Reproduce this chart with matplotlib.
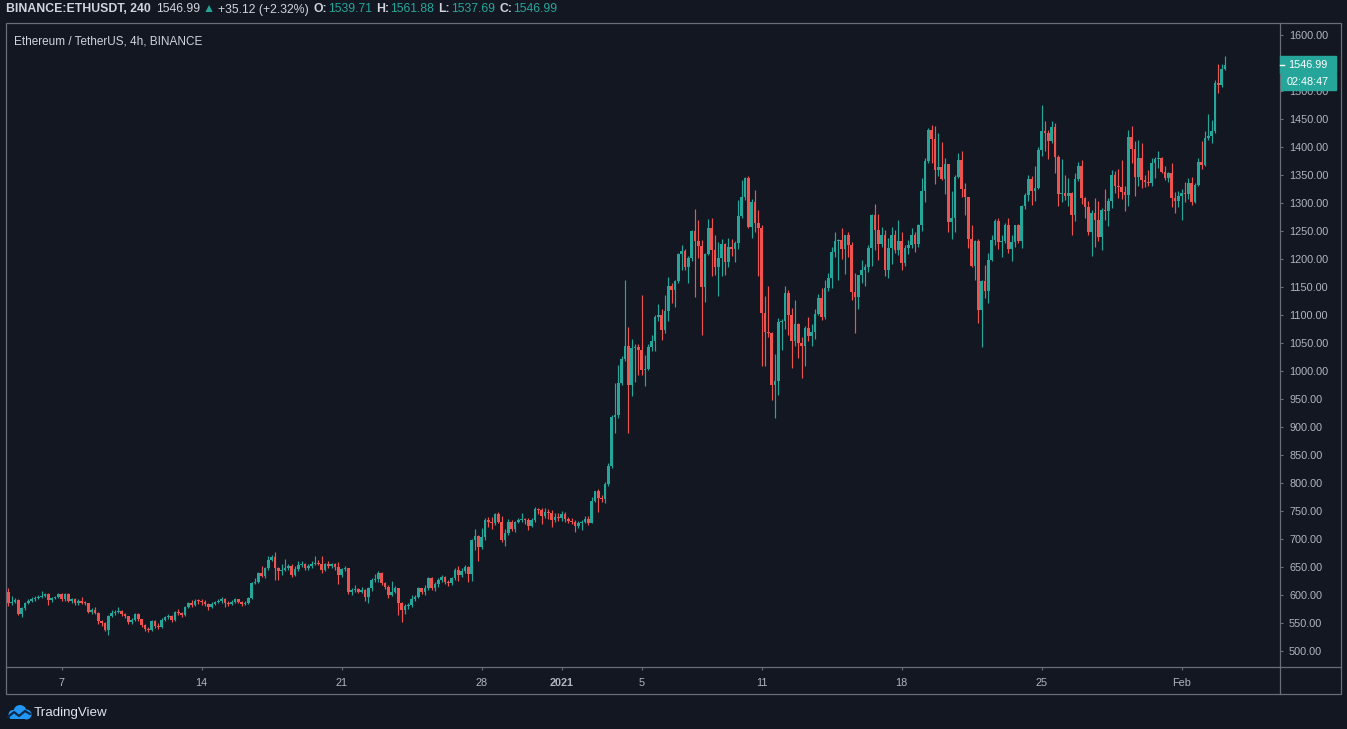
import numpy as np
import matplotlib
matplotlib.use("Agg")
import matplotlib.pyplot as plt
from matplotlib.patches import Rectangle, Circle
from matplotlib.lines import Line2D
from matplotlib.ticker import FormatStrFormatter

# ETH/USDT 4h candles (open of each candle = previous close)
first_open = 606
closes = [
    585, 588, 591, 566, 576, 586, 589, 592, 595, 597,
    599, 601, 591, 594, 596, 601, 592, 601, 590, 593,
    585, 590, 586, 585, 570, 574, 568, 554, 550, 537,
    562, 567, 570, 572, 566, 562, 552, 556, 566, 557,
    546, 540, 538, 554, 545, 543, 556, 560, 563, 556,
    570, 567, 564, 579, 586, 582, 590, 589, 587, 584,
    579, 584, 587, 589, 592, 585, 584, 588, 592, 588,
    584, 586, 594, 621, 624, 639, 634, 648, 662, 667,
    648, 642, 645, 648, 651, 636, 646, 654, 655, 648,
    652, 656, 658, 656, 645, 656, 652, 655, 650, 636,
    646, 648, 606, 609, 610, 606, 609, 596, 612, 627,
    628, 639, 622, 615, 600, 606, 612, 585, 573, 580,
    582, 592, 596, 612, 605, 612, 630, 612, 619, 627,
    633, 624, 621, 630, 645, 636, 642, 650, 638, 698,
    705, 685, 704, 734, 731, 729, 745, 731, 698, 710,
    731, 717, 731, 734, 736, 734, 723, 734, 753, 751,
    741, 749, 746, 734, 740, 737, 745, 735, 733, 731,
    723, 729, 731, 736, 729, 768, 786, 773, 771, 799,
    830, 918, 921, 978, 1021, 1045, 975, 1041, 1043, 1038,
    1001, 1003, 1042, 1053, 1097, 1100, 1073, 1108, 1152, 1144,
    1160, 1209, 1214, 1185, 1201, 1250, 1233, 1223, 1150, 1209,
    1255, 1216, 1185, 1201, 1227, 1195, 1221, 1217, 1229, 1277,
    1310, 1344, 1258, 1302, 1264, 1255, 1103, 1070, 1067, 975,
    983, 1088, 1089, 1139, 1100, 1053, 1084, 1050, 1045, 1076,
    1062, 1070, 1102, 1130, 1096, 1149, 1166, 1213, 1232, 1234,
    1218, 1242, 1225, 1141, 1133, 1171, 1181, 1185, 1219, 1278,
    1252, 1226, 1242, 1181, 1220, 1242, 1216, 1232, 1193, 1219,
    1225, 1242, 1226, 1260, 1322, 1375, 1431, 1414, 1359, 1365,
    1343, 1369, 1266, 1273, 1347, 1377, 1325, 1310, 1236, 1188,
    1232, 1109, 1161, 1143, 1198, 1234, 1268, 1231, 1233, 1261,
    1218, 1231, 1260, 1232, 1294, 1314, 1343, 1321, 1327, 1394,
    1428, 1425, 1410, 1435, 1383, 1316, 1318, 1312, 1318, 1279,
    1343, 1366, 1309, 1293, 1249, 1282, 1269, 1239, 1288, 1285,
    1303, 1350, 1331, 1328, 1320, 1314, 1417, 1396, 1347, 1380,
    1341, 1338, 1335, 1371, 1378, 1380, 1356, 1344, 1354, 1309,
    1304, 1312, 1318, 1316, 1336, 1301, 1333, 1374, 1368, 1416,
    1420, 1428, 1515, 1511, 1539.71, 1546.99,
]
highs = [
    612, 598, 595, 592, 578, 588, 593, 596, 598, 600,
    607, 604, 603, 597, 599, 604, 603, 604, 603, 595,
    594, 592, 596, 589, 586, 577, 578, 570, 556, 552,
    564, 574, 573, 578, 574, 568, 563, 559, 568, 567,
    558, 548, 542, 556, 556, 550, 559, 562, 566, 564,
    572, 575, 569, 581, 588, 591, 592, 592, 592, 591,
    586, 587, 590, 592, 596, 594, 589, 591, 594, 593,
    590, 589, 596, 624, 630, 641, 652, 650, 670, 672,
    676, 650, 655, 664, 655, 655, 652, 660, 660, 658,
    655, 660, 670, 662, 670, 658, 660, 658, 658, 659,
    648, 652, 649, 612, 618, 613, 614, 611, 615, 630,
    638, 642, 641, 624, 617, 625, 616, 613, 588, 584,
    586, 600, 600, 615, 613, 617, 633, 632, 623, 630,
    636, 634, 627, 632, 648, 652, 648, 653, 652, 700,
    717, 708, 719, 738, 740, 740, 747, 748, 741, 718,
    735, 734, 733, 738, 747, 738, 738, 738, 758, 756,
    756, 755, 753, 751, 747, 746, 750, 748, 739, 737,
    734, 733, 734, 741, 741, 775, 786, 790, 778, 802,
    836, 921, 978, 1011, 1026, 1163, 1079, 1058, 1049, 1049,
    1136, 1029, 1049, 1065, 1100, 1120, 1110, 1136, 1167, 1158,
    1163, 1210, 1225, 1217, 1205, 1252, 1289, 1269, 1234, 1210,
    1271, 1273, 1243, 1231, 1235, 1228, 1237, 1235, 1232, 1305,
    1341, 1347, 1348, 1308, 1324, 1288, 1261, 1134, 1151, 1069,
    1030, 1094, 1093, 1151, 1145, 1112, 1127, 1086, 1061, 1080,
    1097, 1084, 1110, 1138, 1149, 1163, 1175, 1222, 1249, 1236,
    1256, 1243, 1249, 1231, 1175, 1172, 1198, 1191, 1225, 1280,
    1298, 1280, 1258, 1252, 1237, 1258, 1252, 1270, 1249, 1225,
    1234, 1256, 1249, 1262, 1345, 1381, 1434, 1440, 1437, 1425,
    1409, 1381, 1370, 1322, 1350, 1389, 1392, 1335, 1311, 1261,
    1234, 1236, 1163, 1190, 1210, 1243, 1272, 1273, 1242, 1264,
    1274, 1242, 1261, 1262, 1297, 1318, 1350, 1349, 1366, 1400,
    1475, 1446, 1430, 1446, 1443, 1385, 1378, 1350, 1344, 1319,
    1353, 1374, 1376, 1310, 1303, 1287, 1309, 1303, 1291, 1325,
    1309, 1359, 1358, 1360, 1376, 1331, 1431, 1438, 1410, 1412,
    1407, 1350, 1359, 1380, 1382, 1392, 1382, 1366, 1356, 1371,
    1319, 1322, 1325, 1338, 1344, 1346, 1335, 1380, 1410, 1428,
    1459, 1448, 1519, 1548, 1548, 1561.88,
]
lows = [
    580, 582, 586, 564, 560, 574, 584, 588, 590, 593,
    595, 597, 582, 588, 592, 594, 590, 590, 588, 586,
    582, 583, 584, 582, 568, 566, 566, 548, 545, 535,
    528, 560, 565, 568, 563, 559, 549, 548, 553, 554,
    542, 536, 534, 535, 541, 540, 541, 553, 558, 552,
    553, 564, 561, 562, 576, 578, 580, 584, 582, 581,
    574, 576, 582, 585, 586, 579, 581, 582, 585, 586,
    581, 583, 584, 592, 619, 622, 632, 630, 645, 660,
    626, 626, 636, 642, 645, 632, 634, 643, 650, 645,
    645, 648, 653, 653, 640, 642, 648, 649, 645, 620,
    632, 643, 602, 600, 605, 603, 604, 590, 586, 608,
    623, 624, 618, 610, 595, 598, 603, 564, 551, 566,
    575, 578, 589, 594, 601, 600, 609, 609, 608, 615,
    624, 620, 616, 618, 627, 625, 633, 640, 623, 625,
    680, 660, 682, 699, 722, 718, 725, 728, 695, 688,
    707, 714, 713, 728, 730, 727, 716, 721, 731, 745,
    726, 737, 736, 721, 730, 733, 732, 730, 729, 726,
    713, 720, 716, 728, 725, 728, 766, 749, 766, 765,
    795, 826, 889, 916, 975, 1018, 890, 956, 981, 993,
    993, 973, 1001, 1035, 1035, 1090, 1056, 1068, 1090, 1121,
    1115, 1157, 1180, 1180, 1158, 1197, 1132, 1201, 1064, 1124,
    1207, 1170, 1172, 1134, 1170, 1172, 1185, 1205, 1194, 1217,
    1273, 1305, 1256, 1237, 1249, 1169, 1009, 1009, 1061, 948,
    916, 957, 1038, 1075, 1065, 1005, 1045, 1023, 987, 1009,
    1053, 1044, 1058, 1100, 1091, 1093, 1142, 1148, 1203, 1163,
    1200, 1173, 1204, 1127, 1068, 1111, 1157, 1151, 1176, 1187,
    1216, 1198, 1222, 1169, 1166, 1191, 1210, 1207, 1181, 1187,
    1209, 1219, 1212, 1222, 1250, 1301, 1372, 1371, 1334, 1349,
    1341, 1316, 1249, 1236, 1248, 1345, 1310, 1279, 1220, 1185,
    1163, 1085, 1042, 1131, 1121, 1196, 1225, 1218, 1204, 1228,
    1210, 1196, 1222, 1228, 1219, 1290, 1303, 1297, 1303, 1325,
    1384, 1392, 1378, 1408, 1354, 1294, 1301, 1305, 1294, 1243,
    1267, 1340, 1299, 1273, 1243, 1206, 1222, 1233, 1216, 1270,
    1259, 1291, 1318, 1309, 1307, 1285, 1294, 1371, 1313, 1331,
    1326, 1328, 1330, 1331, 1344, 1363, 1353, 1341, 1337, 1293,
    1282, 1293, 1269, 1301, 1307, 1297, 1300, 1331, 1360, 1366,
    1412, 1408, 1425, 1497, 1508, 1537.69,
]

# date ticks: candle index of each labelled day
tick_idx = [16, 58, 100, 142, 166, 190, 226, 268, 310, 352]
tick_labels = ["7", "14", "21", "28", "2021", "5", "11", "18", "25", "Feb"]
price_ticks = np.arange(500, 1601, 50)

header = [
    ("BINANCE:ETHUSDT, 240", "fg", "bold", 5),
    ("1546.99", "fg", "normal", 3),
    ("\u25b2", "up", "normal", 3),
    ("+35.12 (+2.32%)", "fg", "normal", 5),
    ("O:", "fg", "bold", 1),
    ("1539.71", "up", "normal", 4),
    ("H:", "fg", "bold", 1),
    ("1561.88", "up", "normal", 4),
    ("L:", "fg", "bold", 1),
    ("1537.69", "up", "normal", 4),
    ("C:", "fg", "bold", 1),
    ("1546.99", "up", "normal", 0),
]

BG = "#131722"
UP = "#26a69a"
DOWN = "#ef5350"
FG = "#d1d4dc"
AXIS_TXT = "#b2b5be"
LINE = "#6a6d78"

plt.rcParams["font.family"] = ["Liberation Sans", "DejaVu Sans"]

W, H = 1347, 729
fig = plt.figure(figsize=(W / 100, H / 100), dpi=100, facecolor=BG)


def fx(x):
    return x / W


def fy(y):
    return 1 - y / H


ax = fig.add_axes([fx(7), fy(667), fx(1280) - fx(7), fy(23.5) - fy(667)])
ax.set_facecolor(BG)

closes = np.array(closes, float)
opens = np.r_[first_open, closes[:-1]]
highs = np.maximum(np.array(highs, float), np.maximum(opens, closes))
lows = np.minimum(np.array(lows, float), np.minimum(opens, closes))
idx = np.arange(len(closes))
cols = np.where(closes >= opens, UP, DOWN)

ax.vlines(idx, lows, highs, colors=cols, linewidth=0.85)
body_h = np.maximum(np.abs(closes - opens), 1.8)
ax.bar(idx, body_h, bottom=np.minimum(opens, closes), width=0.8,
       color=cols, linewidth=0)

ax.set_xlim(-0.39, 381.5)
ax.set_ylim(471.4, 1620.5)
for s in ax.spines.values():
    s.set_visible(False)

ax.yaxis.tick_right()
ax.set_yticks(price_ticks)
ax.yaxis.set_major_formatter(FormatStrFormatter("%.2f"))
ax.tick_params(axis="y", length=2.5, width=0.8, color=LINE, pad=4,
               labelsize=7.8, labelcolor=AXIS_TXT)
ax.set_xticks(tick_idx)
ax.set_xticklabels(tick_labels)
ax.tick_params(axis="x", length=2.5, width=0.8, color=LINE, pad=5.5,
               labelsize=7.8, labelcolor=AXIS_TXT)
for lab in ax.get_xticklabels():
    if lab.get_text() == "2021":
        lab.set_fontweight("bold")

# pane frame and separators
fig.add_artist(Rectangle((fx(6), fy(694)), fx(1341) - fx(6), fy(23) - fy(694),
                         transform=fig.transFigure, fill=False,
                         edgecolor=LINE, linewidth=0.9, zorder=3))
fig.add_artist(Line2D([fx(6), fx(1341)], [fy(667), fy(667)],
                      transform=fig.transFigure, color=LINE, linewidth=0.9, zorder=3))
fig.add_artist(Line2D([fx(1280), fx(1280)], [fy(23), fy(694)],
                      transform=fig.transFigure, color=LINE, linewidth=0.9, zorder=3))

# last price and countdown labels
fig.add_artist(Rectangle((fx(1280), fy(72.5)), fx(1336) - fx(1280), fy(56) - fy(72.5),
                         transform=fig.transFigure, color=UP, zorder=5))
fig.add_artist(Rectangle((fx(1280.5), fy(90)), fx(1336) - fx(1280.5), fy(74) - fy(90),
                         transform=fig.transFigure, color=UP, zorder=5))
fig.add_artist(Line2D([fx(1280), fx(1284)], [fy(64.5), fy(64.5)],
                      transform=fig.transFigure, color="white", linewidth=1, zorder=6))
fig.text(fx(1308), fy(64.5), "1546.99", color="white", fontsize=7.8,
         ha="center", va="center", zorder=6)
fig.text(fx(1308), fy(82), "02:48:47", color="white", fontsize=7.8,
         ha="center", va="center", zorder=6)

# header line
renderer = fig.canvas.get_renderer()
x = 6
for txt, col, weight, gap in header:
    t = fig.text(fx(x), fy(9.5), txt, color=FG if col == "fg" else UP,
                 fontsize=8.8, fontweight=weight, ha="left", va="center")
    x += t.get_window_extent(renderer).width + gap

fig.text(fx(14), fy(41), "Ethereum / TetherUS, 4h, BINANCE", color=FG,
         fontsize=8.5, ha="left", va="center")

# TradingView logo
lax = fig.add_axes([fx(6), fy(721), fx(32) - fx(6), fy(703) - fy(721)])
lax.set_xlim(0, 26)
lax.set_ylim(0, 18)
lax.axis("off")
blue = "#2196f3"
for cx, cy, r in [(14, 9.5, 6.5), (7, 6.5, 4.5), (20.5, 6.5, 5)]:
    lax.add_patch(Circle((cx, cy), r, color=blue, linewidth=0))
lax.add_patch(Rectangle((4, 2), 18, 5, color=blue, linewidth=0))
lax.plot([2, 8, 13, 19, 24], [4, 9, 5, 10, 7], color="#0b2a4a", linewidth=1.6,
         solid_capstyle="round")
fig.text(fx(34), fy(713), "TradingView", color="#e0e3eb", fontsize=9.6,
         ha="left", va="center")

fig.savefig("out.png", dpi=100, facecolor=BG)
